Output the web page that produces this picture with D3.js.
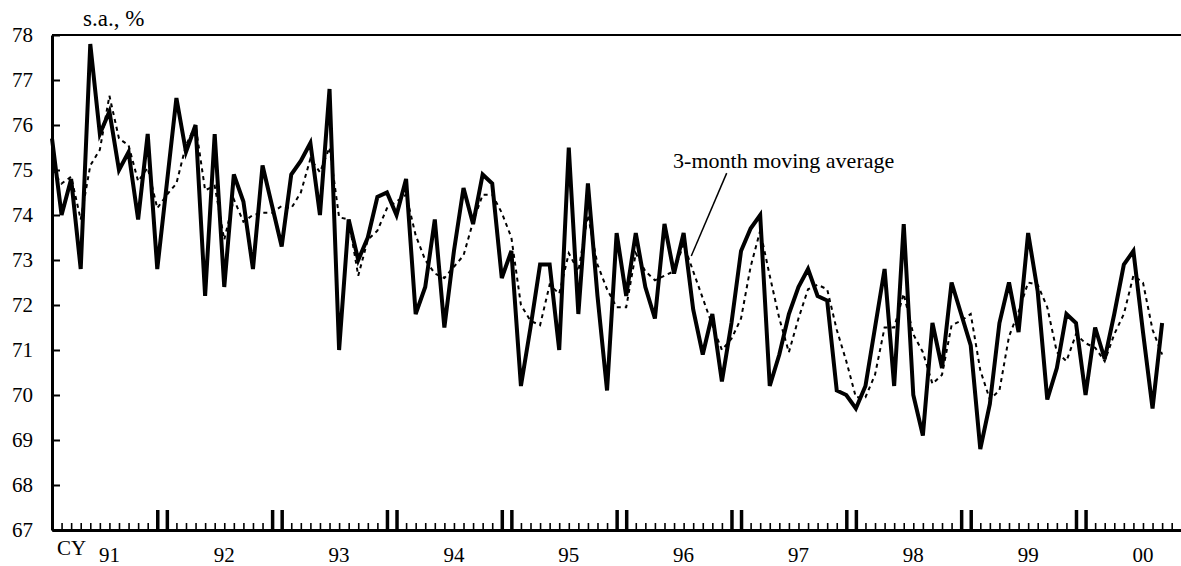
<!DOCTYPE html>
<meta charset="utf-8">
<style>
body { margin: 0; background: #fff; }
text { fill: #000; }
.line { fill: none; stroke: #000; stroke-width: 4px; stroke-linejoin: miter; }
.avg { fill: none; stroke: #000; stroke-width: 2px; stroke-dasharray: 4,4; }
.axis path, .axis line { stroke: #000; }
</style>
<body>
<script src="https://d3js.org/d3.v7.min.js"></script>
<script>

// monthly, Jan 1991 .. Sep 2000
var rate = [
  75.7, 74.0, 74.8, 72.8, 77.8, 75.8, 76.3, 75.0, 75.4, 73.9, 75.8, 72.8,
  74.7, 76.6, 75.4, 76.0, 72.2, 75.8, 72.4, 74.9, 74.3, 72.8, 75.1, 74.2,
  73.3, 74.9, 75.2, 75.6, 74.0, 76.8, 71.0, 73.9, 73.0, 73.5, 74.4, 74.5,
  74.0, 74.8, 71.8, 72.4, 73.9, 71.5, 73.2, 74.6, 73.8, 74.9, 74.7, 72.6,
  73.2, 70.2, 71.5, 72.9, 72.9, 71.0, 75.5, 71.8, 74.7, 72.2, 70.1, 73.6,
  72.2, 73.6, 72.4, 71.7, 73.8, 72.7, 73.6, 71.9, 70.9, 71.8, 70.3, 71.6,
  73.2, 73.7, 74.0, 70.2, 70.9, 71.8, 72.4, 72.8, 72.2, 72.1, 70.1, 70.0,
  69.7, 70.2, 71.5, 72.8, 70.2, 73.8, 70.0, 69.1, 71.6, 70.6, 72.5, 71.8,
  71.1, 68.8, 69.8, 71.6, 72.5, 71.4, 73.6, 72.3, 69.9, 70.6, 71.8, 71.6,
  70.0, 71.5, 70.8, 71.8, 72.9, 73.2, 71.4, 69.7, 71.6
];

var movingAvg = [
  75.0, 74.7, 74.85, 73.9, 75.1, 75.45, 76.65, 75.7, 75.55, 74.75, 75.05, 74.15,
  74.45, 74.7, 75.55, 76.0, 74.55, 74.65, 73.45, 74.35, 73.85, 74.0, 74.05, 74.05,
  74.2, 74.15, 74.5, 75.25, 74.95, 75.5, 73.95, 73.9, 72.65, 73.45, 73.65, 74.15,
  74.3, 74.45, 73.55, 73.0, 72.7, 72.6, 72.85, 73.1, 73.85, 74.45, 74.45, 74.05,
  73.5, 72.0, 71.65, 71.55, 72.45, 72.25, 73.15, 72.75, 74.0, 72.9, 72.35, 71.95,
  71.95, 73.15, 72.75, 72.55, 72.65, 72.75, 73.35, 72.75, 72.15, 71.55, 71.0, 71.25,
  71.7, 72.85, 73.65, 72.65, 71.7, 70.95, 71.7, 72.35, 72.45, 72.35, 71.45, 70.75,
  69.95, 69.95, 70.45, 71.5, 71.5, 72.25, 71.35, 70.95, 70.25, 70.45, 71.55, 71.65,
  71.8, 70.55, 69.9, 70.1, 71.3, 71.85, 72.5, 72.45, 71.95, 70.95, 70.75, 71.35,
  71.15, 71.05, 70.75, 71.35, 71.8, 72.65, 72.5, 71.45, 70.9
];

var yearLabels = ["91", "92", "93", "94", "95", "96", "97", "98", "99", "00"];
var yTicks = [67, 68, 69, 70, 71, 72, 73, 74, 75, 76, 77, 78];

var note = { text: "3-month moving average", tx: 64.9, ty: 75.04,
             x1: 70.5, y1: 74.93, x2: 66.8, y2: 73.09 };

var serif = "'Liberation Serif', 'Times New Roman', Times, serif";

var margin = {top: 35, right: 0, bottom: 36, left: 52},
    width = 1181 - margin.left - margin.right,
    height = 566 - margin.top - margin.bottom;

var x = d3.scaleLinear().domain([0, 118]).range([0, 118 * 9.57]);
var y = d3.scaleLinear().domain([67, 78]).range([height, 0]);

var svg = d3.select("body").append("svg")
    .attr("width", 1181)
    .attr("height", 566)
    .attr("font-family", serif)
  .append("g")
    .attr("transform", "translate(" + margin.left + "," + margin.top + ")");

// frame top
svg.append("line")
    .attr("x1", 0).attr("x2", width)
    .attr("y1", 0).attr("y2", 0)
    .style("stroke", "#000").style("stroke-width", 2);

// month ticks, the Dec/Jan pair drawn tall
var months = d3.range(0, 118);
var majors = [];
yearLabels.forEach(function(d, k) { if (k < 9) majors.push(12 * k + 11, 12 * k + 12); });

svg.append("g")
    .attr("class", "axis")
    .attr("transform", "translate(0," + height + ")")
    .call(d3.axisBottom(x).tickValues(months.filter(function(m) { return majors.indexOf(m) < 0; }))
      .tickSize(-7).tickSizeOuter(0).tickFormat(""))
    .call(function(g) {
      g.select(".domain").style("stroke-width", 3);
      g.selectAll(".tick line").style("stroke-width", 1.6);
    });

svg.append("g")
    .attr("class", "axis")
    .attr("transform", "translate(0," + height + ")")
    .call(d3.axisBottom(x).tickValues(majors).tickSize(-20).tickSizeOuter(0).tickFormat(""))
    .call(function(g) {
      g.select(".domain").remove();
      g.selectAll(".tick line").style("stroke-width", 3.5);
    });

// y axis
svg.append("g")
    .attr("class", "axis")
    .call(d3.axisLeft(y).tickValues(yTicks).tickSize(-8).tickSizeOuter(0).tickPadding(19))
    .call(function(g) {
      g.attr("font-family", serif);
      g.select(".domain").style("stroke-width", 3);
      g.selectAll(".tick line").style("stroke-width", 2);
      g.selectAll("text").style("font-size", "21px");
    });

// year labels
svg.selectAll(".year")
    .data(yearLabels)
  .enter().append("text")
    .attr("class", "year")
    .attr("x", function(d, k) { return x(12 * k + 6); })
    .attr("y", height + 32)
    .attr("text-anchor", "middle")
    .style("font-size", "21px")
    .text(function(d) { return d; });

svg.append("text")
    .attr("x", 5).attr("y", height + 25)
    .style("font-size", "21px")
    .text("CY");

svg.append("text")
    .attr("x", 31).attr("y", -9)
    .style("font-size", "23px")
    .text("s.a., %");

// moving average (dotted)
svg.append("path")
    .datum(movingAvg)
    .attr("class", "avg")
    .attr("d", d3.line().x(function(d, i) { return x(i); }).y(function(d) { return y(d); }));

// the series
svg.append("path")
    .datum(rate)
    .attr("class", "line")
    .attr("d", d3.line().x(function(d, i) { return x(i); }).y(function(d) { return y(d); }));

// annotation
svg.append("line")
    .attr("x1", x(note.x1)).attr("y1", y(note.y1))
    .attr("x2", x(note.x2)).attr("y2", y(note.y2))
    .style("stroke", "#000").style("stroke-width", 1.5);

svg.append("text")
    .attr("x", x(note.tx)).attr("y", y(note.ty))
    .style("font-size", "22px")
    .text(note.text);

</script>
</body>
